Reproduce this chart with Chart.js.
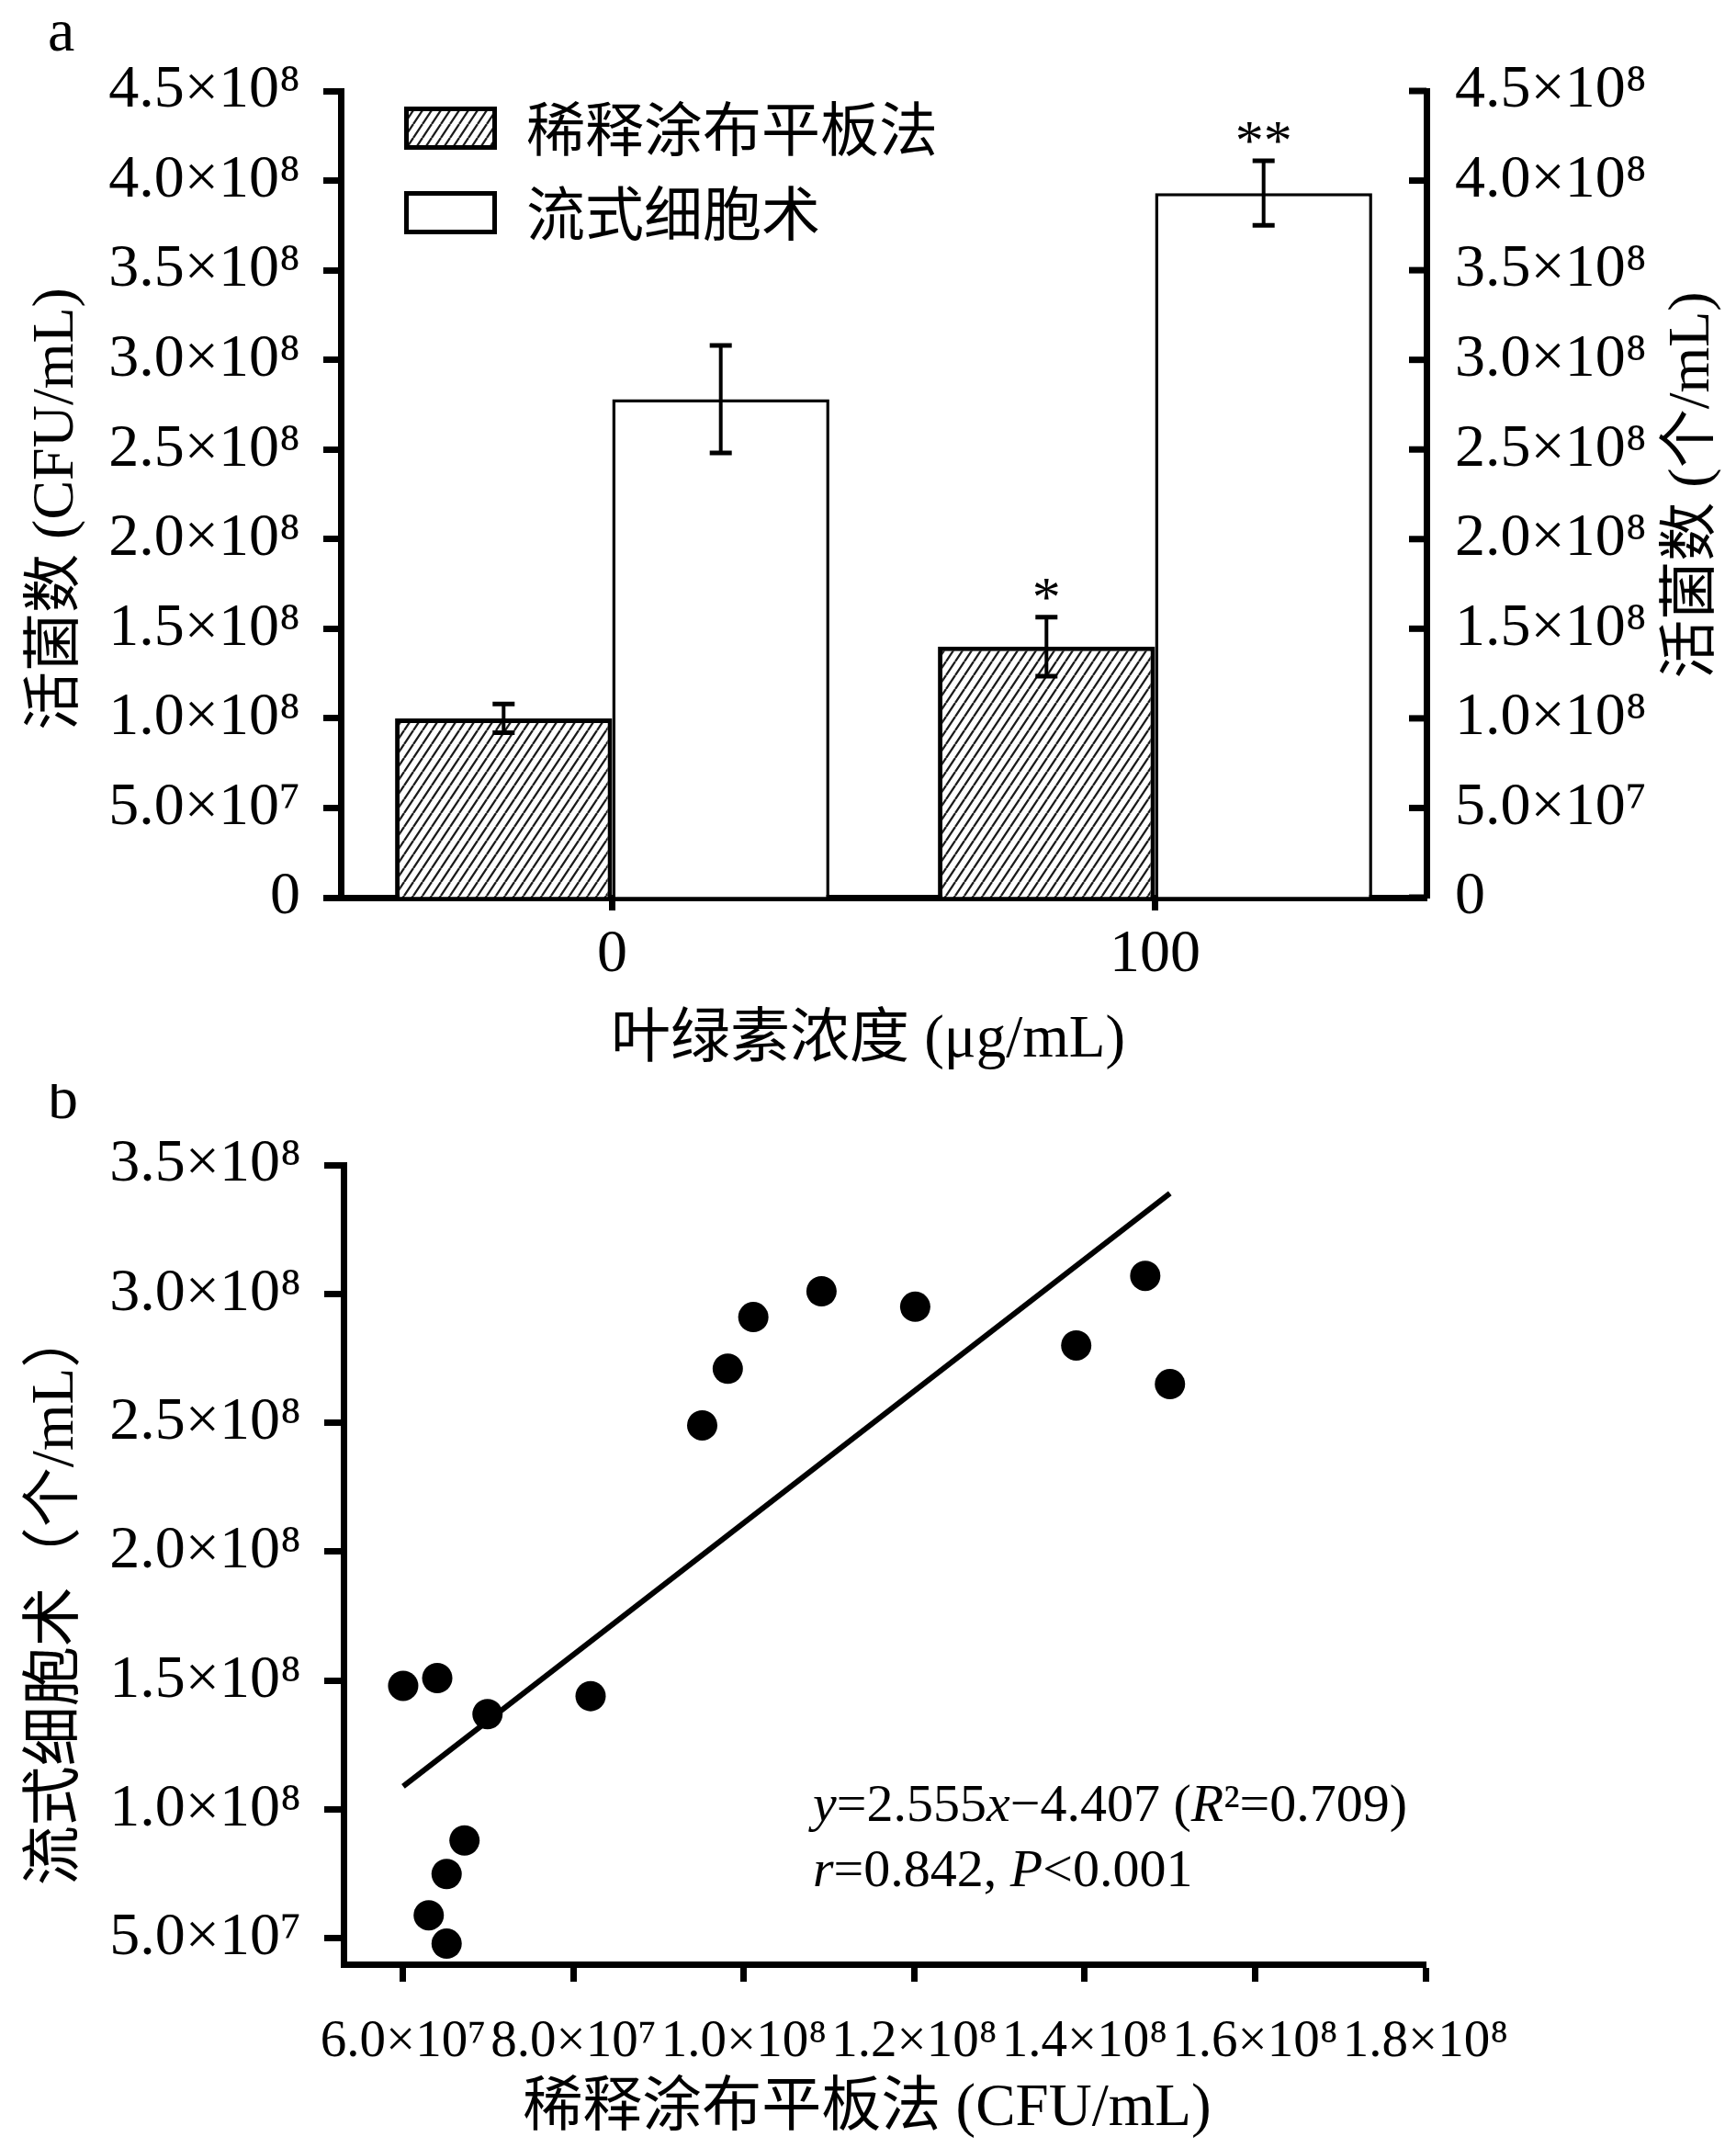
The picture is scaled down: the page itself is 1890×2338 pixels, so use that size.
<!DOCTYPE html>
<html lang="zh">
<head>
<meta charset="UTF-8">
<title>活菌数：稀释涂布平板法与流式细胞术</title>
<script src="https://cdn.jsdelivr.net/npm/chart.js@4.4.1/dist/chart.umd.min.js"></script>
<style>
  html, body { margin: 0; padding: 0; background: #fff; }
  #wrap { position: relative; width: 1890px; height: 2338px; }
  canvas { position: absolute; left: 0; }
  #chartA { top: 0; }
  #chartB { top: 1180px; }
</style>
</head>
<body>
<div id="wrap">
  <canvas id="chartA" width="1890" height="1180"></canvas>
  <canvas id="chartB" width="1890" height="1158"></canvas>
</div>
<script>
// ---------- panel a ----------
const concLabels = ['0', '100'];
const plateMeans = [1.00e8, 1.40e8];
const plateErr   = [0.08e8, 0.165e8];
const flowMeans  = [2.78e8, 3.93e8];
const flowErr    = [0.30e8, 0.18e8];
const plateSig   = ['', '*'];
const flowSig    = ['', '**'];
const yTicksA      = [0, 5e7, 1e8, 1.5e8, 2e8, 2.5e8, 3e8, 3.5e8, 4e8, 4.5e8];
const yTickLabelsA = ['0', '5.0×10⁷', '1.0×10⁸', '1.5×10⁸', '2.0×10⁸', '2.5×10⁸', '3.0×10⁸', '3.5×10⁸', '4.0×10⁸', '4.5×10⁸'];

// ---------- panel b ----------
const plateCounts = [6.00e7, 6.40e7, 6.99e7, 8.20e7, 6.72e7, 6.51e7, 6.30e7, 6.51e7,
                     9.51e7, 9.81e7, 1.011e8, 1.091e8, 1.201e8, 1.390e8, 1.471e8, 1.500e8];
const flowCounts  = [1.48e8, 1.51e8, 1.37e8, 1.44e8, 0.88e8, 0.75e8, 0.59e8, 0.48e8,
                     2.49e8, 2.71e8, 2.91e8, 3.01e8, 2.95e8, 2.80e8, 3.07e8, 2.65e8];
const fitX = [6.0e7, 1.5e8];
const fitY = [1.09e8, 3.39e8];
const xTicksB      = [6e7, 8e7, 1e8, 1.2e8, 1.4e8, 1.6e8, 1.8e8];
const xTickLabelsB = ['6.0×10⁷', '8.0×10⁷', '1.0×10⁸', '1.2×10⁸', '1.4×10⁸', '1.6×10⁸', '1.8×10⁸'];
const yTicksB      = [5e7, 1e8, 1.5e8, 2e8, 2.5e8, 3e8, 3.5e8];
const yTickLabelsB = ['5.0×10⁷', '1.0×10⁸', '1.5×10⁸', '2.0×10⁸', '2.5×10⁸', '3.0×10⁸', '3.5×10⁸'];

const SERIF = '"Liberation Serif", "Noto Sans CJK SC", serif';

// diagonal hatch for the plate-count bars
function makeHatch(ctx) {
  const tile = document.createElement('canvas');
  tile.width = 10; tile.height = 15;
  const g = tile.getContext('2d');
  g.fillStyle = '#fff';
  g.fillRect(0, 0, 10, 15);
  g.strokeStyle = '#1a1a1a';
  g.lineWidth = 2.3;
  g.beginPath();
  g.moveTo(-10, 15); g.lineTo(0, 0);
  g.moveTo(0, 15); g.lineTo(10, 0);
  g.moveTo(10, 15); g.lineTo(20, 0);
  g.stroke();
  return ctx.createPattern(tile, 'repeat');
}

function label(ticks, labels) {
  return v => labels[ticks.indexOf(v)];
}

function text(ctx, str, x, y, size, opts = {}) {
  ctx.save();
  ctx.font = (opts.italic ? 'italic ' : '') + size + 'px ' + SERIF;
  ctx.fillStyle = '#000';
  ctx.textAlign = opts.align || 'center';
  ctx.textBaseline = opts.baseline || 'middle';
  ctx.translate(x, y);
  if (opts.rotate) ctx.rotate(opts.rotate);
  ctx.fillText(str, 0, 0);
  ctx.restore();
}

function runs(ctx, parts, x, y, size) {
  ctx.save();
  ctx.fillStyle = '#000';
  ctx.textAlign = 'left';
  ctx.textBaseline = 'middle';
  parts.forEach(([t, italic]) => {
    ctx.font = (italic ? 'italic ' : '') + size + 'px ' + SERIF;
    ctx.fillText(t, x, y);
    x += ctx.measureText(t).width;
  });
  ctx.restore();
}

const ctxA = document.getElementById('chartA').getContext('2d');
const hatch = makeHatch(ctxA);

// error bars and significance marks
const errorBars = {
  id: 'errorBars',
  afterDatasetsDraw(chart) {
    const ctx = chart.ctx;
    const errs = [plateErr, flowErr];
    const sigs = [plateSig, flowSig];
    chart.data.datasets.forEach((ds, di) => {
      const meta = chart.getDatasetMeta(di);
      const scale = chart.scales[meta.yAxisID];
      meta.data.forEach((bar, i) => {
        const v = ds.data[i], e = errs[di][i];
        const yTop = scale.getPixelForValue(v + e);
        const yBot = scale.getPixelForValue(v - e);
        ctx.save();
        ctx.strokeStyle = '#000';
        ctx.lineWidth = 4;
        ctx.beginPath();
        ctx.moveTo(bar.x, yTop); ctx.lineTo(bar.x, yBot);
        ctx.stroke();
        ctx.lineWidth = 5;
        ctx.beginPath();
        ctx.moveTo(bar.x - 12, yTop); ctx.lineTo(bar.x + 12, yTop);
        ctx.moveTo(bar.x - 12, yBot); ctx.lineTo(bar.x + 12, yBot);
        ctx.stroke();
        ctx.restore();
        if (sigs[di][i]) {
          text(ctx, sigs[di][i], bar.x, yTop - 2, 62, { baseline: 'alphabetic' });
        }
      });
    });
  }
};

const decorA = {
  id: 'decorA',
  afterDraw(chart) {
    const ctx = chart.ctx;
    const area = chart.chartArea;
    // inward ticks on the right axis
    const y2 = chart.scales.y2;
    ctx.save();
    ctx.strokeStyle = '#000';
    ctx.lineWidth = 7;
    yTicksA.forEach(v => {
      const y = y2.getPixelForValue(v);
      ctx.beginPath();
      ctx.moveTo(area.right - 19, y); ctx.lineTo(area.right, y);
      ctx.stroke();
    });
    ctx.restore();

    text(ctx, 'a', 52, 55, 66, { align: 'left', baseline: 'alphabetic' });
    text(ctx, '活菌数 (CFU/mL)', 62, 554, 64, { rotate: -Math.PI / 2 });
    text(ctx, '活菌数 (个/mL)', 1843, 528, 64, { rotate: -Math.PI / 2 });
    text(ctx, '叶绿素浓度 (μg/mL)', 945, 1133, 65);

    // legend
    const items = [[hatch, '稀释涂布平板法', 5], ['#fff', '流式细胞术', 5]];
    items.forEach(([fill, name, bw], i) => {
      const top = 116 + i * 92;
      ctx.save();
      ctx.fillStyle = fill;
      ctx.fillRect(440, top, 101, 47);
      ctx.strokeStyle = '#000';
      ctx.lineWidth = bw;
      ctx.strokeRect(440 + bw / 2, top + bw / 2, 101 - bw, 47 - bw);
      ctx.restore();
      text(ctx, name, 573, top + 31, 64, { align: 'left' });
    });
  }
};

const tickFont = { family: SERIF, size: 66 };

new Chart(ctxA, {
  type: 'bar',
  data: {
    labels: concLabels,
    datasets: [
      { label: '稀释涂布平板法', data: plateMeans, yAxisID: 'y',
        backgroundColor: hatch, borderColor: '#000', borderWidth: 5,
        categoryPercentage: 0.8, barPercentage: 1.0 },
      { label: '流式细胞术', data: flowMeans, yAxisID: 'y2',
        backgroundColor: '#fff', borderColor: '#000', borderWidth: 3.5,
        categoryPercentage: 0.8, barPercentage: 1.0 }
    ]
  },
  options: {
    responsive: false,
    animation: false,
    devicePixelRatio: 1,
    layout: { padding: { top: 99, left: 0, right: 0, bottom: 0 } },
    plugins: { legend: { display: false }, tooltip: { enabled: false } },
    scales: {
      x: {
        offset: true,
        afterFit: s => { s.height = 203; },
        grid: { offset: false, drawOnChartArea: false, tickLength: 14, tickWidth: 7, tickColor: '#000' },
        border: { display: true, width: 7, color: '#000' },
        ticks: { font: tickFont, color: '#000', padding: 9 }
      },
      y: {
        position: 'left', min: 0, max: 4.5e8,
        afterBuildTicks: s => { s.ticks = yTicksA.map(v => ({ value: v })); },
        afterFit: s => { s.width = 371; },
        grid: { drawOnChartArea: false, tickLength: 19, tickWidth: 7, tickColor: '#000' },
        border: { display: true, width: 7, color: '#000' },
        ticks: { font: tickFont, color: '#000', padding: 25, callback: label(yTicksA, yTickLabelsA) }
      },
      y2: {
        position: 'right', min: 0, max: 4.5e8,
        afterBuildTicks: s => { s.ticks = yTicksA.map(v => ({ value: v })); },
        afterFit: s => { s.width = 337; },
        grid: { drawOnChartArea: false, drawTicks: false },
        border: { display: true, width: 7, color: '#000' },
        ticks: { font: tickFont, color: '#000', padding: 31, callback: label(yTicksA, yTickLabelsA) }
      }
    }
  },
  plugins: [errorBars, decorA]
});

// ---------- panel b chart ----------
const decorB = {
  id: 'decorB',
  afterDraw(chart) {
    const ctx = chart.ctx;
    text(ctx, 'b', 52, 37, 66, { align: 'left', baseline: 'alphabetic' });
    text(ctx, '流式细胞术（个/mL）', 62, 558, 65, { rotate: -Math.PI / 2 });
    text(ctx, '稀释涂布平板法 (CFU/mL)', 944, 1116, 65);
    runs(ctx, [['y', true], ['=2.555', false], ['x', true], ['−4.407 (', false],
               ['R', true], ['²=0.709)', false]], 885, 787, 58);
    runs(ctx, [['r', true], ['=0.842, ', false], ['P', true], ['<0.001', false]], 885, 858, 58);
  }
};

new Chart(document.getElementById('chartB'), {
  type: 'scatter',
  data: {
    datasets: [
      { type: 'line', data: fitX.map((x, i) => ({ x, y: fitY[i] })),
        borderColor: '#000', borderWidth: 6, pointRadius: 0, fill: false, order: 0 },
      { data: plateCounts.map((x, i) => ({ x, y: flowCounts[i] })),
        backgroundColor: '#000', borderColor: '#000', borderWidth: 0, pointRadius: 16.5, order: 1 }
    ]
  },
  options: {
    responsive: false,
    animation: false,
    devicePixelRatio: 1,
    layout: { padding: { top: 88, left: 0, right: 338, bottom: 0 } },
    plugins: { legend: { display: false }, tooltip: { enabled: false } },
    scales: {
      x: {
        type: 'linear', min: 5.3e7, max: 1.8e8,
        afterBuildTicks: s => { s.ticks = xTicksB.map(v => ({ value: v })); },
        afterFit: s => { s.height = 200; },
        grid: { drawOnChartArea: false, tickLength: 19, tickWidth: 7, tickColor: '#000' },
        border: { display: true, width: 7, color: '#000' },
        ticks: { font: { family: SERIF, size: 57 }, color: '#000', padding: 32,
                 autoSkip: false, maxRotation: 0, minRotation: 0,
                 callback: label(xTicksB, xTickLabelsB) }
      },
      y: {
        type: 'linear', min: 4.0e7, max: 3.5e8,
        afterBuildTicks: s => { s.ticks = yTicksB.map(v => ({ value: v })); },
        afterFit: s => { s.width = 374; },
        grid: { drawOnChartArea: false, tickLength: 21, tickWidth: 7, tickColor: '#000' },
        border: { display: true, width: 7, color: '#000' },
        ticks: { font: tickFont, color: '#000', padding: 25, callback: label(yTicksB, yTickLabelsB) }
      }
    }
  },
  plugins: [decorB]
});
</script>
</body>
</html>
